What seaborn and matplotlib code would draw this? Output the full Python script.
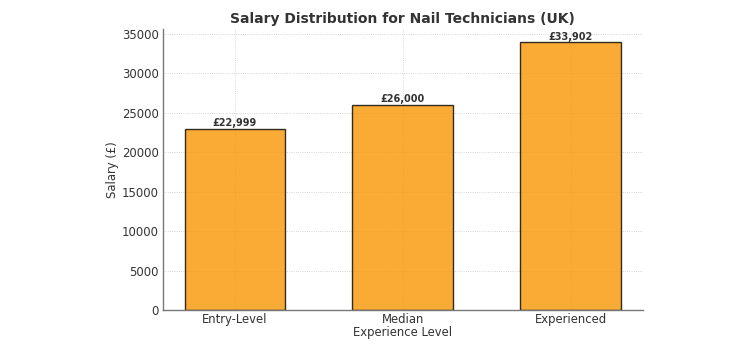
import matplotlib
matplotlib.use("Agg")
import matplotlib.pyplot as plt
import seaborn as sns
import pandas as pd

levels = ["Entry-Level", "Median", "Experienced"]
salaries = [22999, 26000, 33902]
bar_labels = ["£22,999", "£26,000", "£33,902"]

df = pd.DataFrame({"Experience Level": levels, "Salary": salaries})

sns.set_style("white")
plt.rcParams["font.family"] = ["DejaVu Sans"]

fig = plt.figure(figsize=(7.5, 3.5), dpi=100)
ax = fig.add_axes([0.217, 0.114, 0.64, 0.803])

sns.barplot(data=df, x="Experience Level", y="Salary", color="#F99602",
            width=0.6, edgecolor="black", linewidth=1.0, alpha=0.8,
            saturation=1, ax=ax)

for patch, text in zip(ax.patches, bar_labels):
    ax.annotate(text, (patch.get_x() + patch.get_width() / 2, patch.get_height()),
                xytext=(0, 0.3), textcoords="offset points",
                ha="center", va="bottom", fontsize=7, fontweight="bold",
                color="#333333")

ax.set_xlim(-0.43, 2.43)
ax.set_ylim(0, 35597)
ax.set_yticks(range(0, 35001, 5000))
ax.grid(True, linestyle=":", linewidth=0.6, color="#c8c8c8")
ax.set_axisbelow(True)
for s in ["top", "right"]:
    ax.spines[s].set_visible(False)
for s in ["left", "bottom"]:
    ax.spines[s].set_color("#777777")
    ax.spines[s].set_linewidth(1.0)
ax.tick_params(axis="both", labelsize=8.4, colors="#333333", length=0, pad=3)
ax.tick_params(axis="x", pad=2)
ax.set_title("Salary Distribution for Nail Technicians (UK)", fontsize=10,
             fontweight="bold", color="#333333", pad=4)
ax.set_xlabel("Experience Level", fontsize=8.4, color="#333333", labelpad=0)
ax.set_ylabel("Salary (£)", fontsize=8.4, color="#333333", labelpad=2)

fig.savefig("out.png", dpi=100)
